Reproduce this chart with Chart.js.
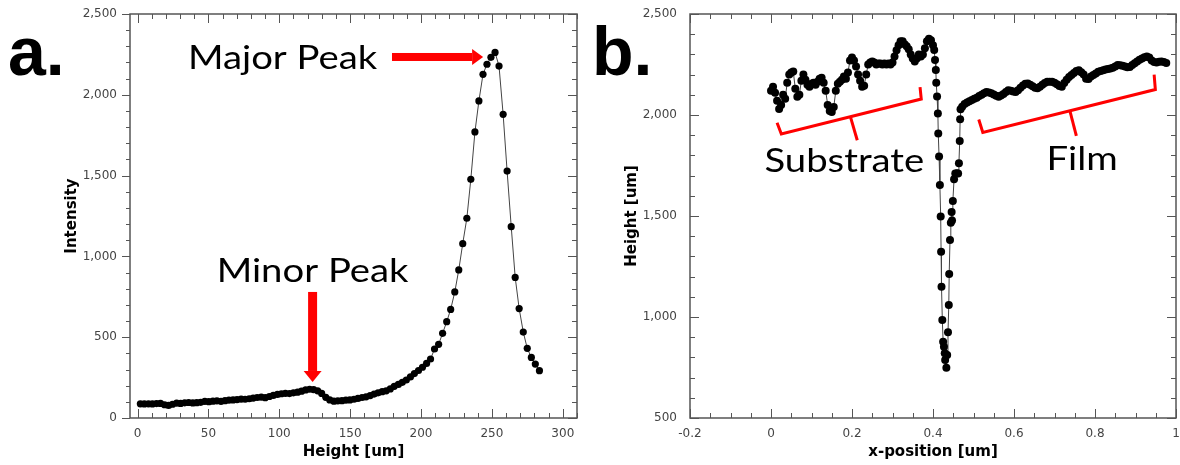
<!DOCTYPE html>
<html>
<head>
<meta charset="utf-8">
<script src="https://cdn.jsdelivr.net/npm/chart.js@4.4.1/dist/chart.umd.min.js"></script>
<style>
  body { margin: 0; background: #fff; }
  #wrap { position: relative; width: 1180px; height: 465px; }
  canvas { position: absolute; top: 0; }
</style>
</head>
<body>
<div id="wrap">
  <canvas id="chartA" width="590" height="465" style="left:0"></canvas>
  <canvas id="chartB" width="590" height="465" style="left:590px"></canvas>
</div>
<script>
// Panel a: intensity vs height
const heightUm = [
  2.0, 4.8, 7.7, 10.5, 13.4, 16.2, 19.1, 21.9, 24.7, 27.6,
  30.4, 33.3, 36.1, 39.0, 41.8, 44.6, 47.5, 50.3, 53.2, 56.0,
  58.9, 61.7, 64.5, 67.4, 70.2, 73.1, 75.9, 78.8, 81.6, 84.4,
  87.3, 90.1, 93.0, 95.8, 98.7, 101.5, 104.3, 107.2, 110.0, 112.9,
  115.7, 118.6, 121.4, 124.2, 127.1, 129.9, 132.8, 135.6, 138.5, 141.3,
  144.2, 147.0, 149.8, 152.7, 155.5, 158.4, 161.2, 164.1, 166.9, 169.7,
  172.6, 175.4, 178.3, 181.1, 184.0, 186.8, 189.6, 192.5, 195.3, 198.2,
  201.0, 203.9, 206.7, 209.5, 212.4, 215.2, 218.1, 220.9, 223.8, 226.6,
  229.4, 232.3, 235.1, 238.0, 240.8, 243.7, 246.5, 249.3, 252.2, 255.0,
  257.9, 260.7, 263.6, 266.4, 269.2, 272.1, 274.9, 277.8, 280.6, 283.5
];
const intensity = [
  88, 87, 88, 87, 89, 90, 82, 78, 85, 92,
  90, 94, 96, 93, 95, 97, 103, 101, 104, 106,
  103, 107, 110, 112, 114, 117, 116, 119, 123, 127,
  129, 126, 133, 140, 146, 150, 153, 151, 156, 160,
  166, 174, 178, 176, 168, 152, 128, 112, 104, 106,
  107, 110, 112, 116, 121, 127, 131, 139, 148, 156,
  163, 168, 180, 196, 208, 221, 235, 254, 275, 294,
  314, 338, 365, 427, 456, 524, 596, 672, 780, 916,
  1079, 1236, 1477, 1770, 1962, 2127, 2189, 2232, 2262, 2178,
  1879, 1528, 1184, 870, 677, 532, 431, 375, 334, 293
];
const xTicksA = [0, 50, 100, 150, 200, 250, 300];
const yTicksA = [0, 500, 1000, 1500, 2000, 2500];

// Panel b: height profile vs x-position
const xPosUm = [
  0.000, 0.005, 0.010, 0.015, 0.020, 0.025, 0.030, 0.035, 0.040, 0.045,
  0.050, 0.055, 0.060, 0.065, 0.070, 0.075, 0.080, 0.085, 0.090, 0.095,
  0.100, 0.105, 0.110, 0.115, 0.120, 0.125, 0.130, 0.135, 0.140, 0.145,
  0.150, 0.155, 0.160, 0.165, 0.170, 0.175, 0.180, 0.185, 0.190, 0.195,
  0.200, 0.205, 0.210, 0.215, 0.220, 0.225, 0.230, 0.235, 0.240, 0.245,
  0.250, 0.255, 0.260, 0.265, 0.270, 0.275, 0.280, 0.285, 0.290, 0.295,
  0.300, 0.305, 0.310, 0.315, 0.320, 0.325, 0.330, 0.335, 0.340, 0.345,
  0.350, 0.355, 0.360, 0.365, 0.370, 0.375, 0.380, 0.385, 0.390, 0.395,
  0.400,
  0.403, 0.405, 0.407, 0.408, 0.410, 0.412, 0.413, 0.415, 0.417, 0.419,
  0.420, 0.421, 0.423, 0.425, 0.427, 0.429, 0.430, 0.433, 0.435, 0.437,
  0.439, 0.440, 0.442, 0.444, 0.446, 0.447, 0.449, 0.452, 0.455, 0.459,
  0.462, 0.464, 0.466, 0.467, 0.468,
  0.472, 0.478, 0.484, 0.490, 0.496, 0.502, 0.508, 0.514, 0.520, 0.526,
  0.532, 0.538, 0.544, 0.550, 0.556, 0.562, 0.568, 0.574, 0.580, 0.586,
  0.592, 0.598, 0.604, 0.610, 0.616, 0.622, 0.628, 0.634, 0.640, 0.646,
  0.652, 0.658, 0.664, 0.670, 0.676, 0.682, 0.688, 0.694, 0.700, 0.706,
  0.712, 0.718, 0.724, 0.730, 0.736, 0.742, 0.748, 0.754, 0.760, 0.766,
  0.772, 0.778, 0.784, 0.790, 0.796, 0.802, 0.808, 0.814, 0.820, 0.826,
  0.832, 0.838, 0.844, 0.850, 0.856, 0.862, 0.868, 0.874, 0.880, 0.886,
  0.892, 0.898, 0.904, 0.910, 0.916, 0.922, 0.928, 0.934, 0.940, 0.946,
  0.952, 0.958, 0.964, 0.970, 0.976
];
const profileHeight = [
  2120, 2140, 2110, 2070, 2030, 2050, 2100, 2080, 2160, 2200,
  2210, 2215, 2130, 2090, 2100, 2170, 2200, 2175, 2150, 2140,
  2155, 2160, 2150, 2165, 2180, 2185, 2160, 2120, 2050, 2020,
  2015, 2040, 2120, 2155, 2165, 2175, 2190, 2180, 2210, 2270,
  2285, 2270, 2240, 2200, 2170, 2140, 2145, 2200, 2250, 2260,
  2265, 2260, 2250, 2255, 2255, 2250, 2255, 2250, 2255, 2250,
  2260, 2290, 2320, 2345, 2365, 2365, 2350, 2340, 2325, 2300,
  2280, 2265, 2280, 2300, 2290, 2300, 2330, 2365, 2378, 2370,
  2345,
  2322, 2272, 2223, 2160, 2091, 2008, 1909, 1794, 1653, 1497,
  1323, 1150, 985, 877, 853, 820, 787, 749, 812, 924,
  1059, 1213, 1381, 1466, 1520, 1478, 1574, 1682, 1711, 1712,
  1711, 1761, 1871, 1979, 2028,
  2041, 2055, 2062, 2068, 2074, 2080, 2086, 2094, 2100, 2108,
  2114, 2112, 2108, 2102, 2095, 2090, 2096, 2104, 2114, 2122,
  2120, 2116, 2114, 2122, 2135, 2146, 2155, 2156, 2150, 2142,
  2135, 2132, 2140, 2150, 2158, 2164, 2165, 2164, 2160, 2152,
  2144, 2140, 2158, 2175, 2188, 2198, 2208, 2218, 2222, 2212,
  2200, 2180, 2178, 2190, 2198, 2206, 2214, 2218, 2222, 2225,
  2228, 2230, 2234, 2240, 2248, 2246, 2244, 2240, 2236, 2238,
  2248, 2256, 2265, 2273, 2280, 2286, 2290, 2285, 2270, 2262,
  2260, 2264, 2265, 2262, 2258
];
const xTicksB = [-0.2, 0, 0.2, 0.4, 0.6, 0.8, 1];
const yTicksB = [500, 1000, 1500, 2000, 2500];

const TICK_FONT = { family: 'DejaVu Sans', size: 12 };
const TITLE_FONT = { family: 'DejaVu Sans', size: 15, weight: 'bold' };
const NOTE_FONT = '33px Lato';
const NOTE_STRETCH = 1.16;
const RED = '#ff0000';

function fixedBox(size) {
    return scale => {
        if (scale.isHorizontal()) scale.height = size; else scale.width = size;
        scale.paddingLeft = scale.paddingRight = scale.paddingTop = scale.paddingBottom = 0;
    };
}

function line(ctx, x1, y1, x2, y2) {
    ctx.beginPath();
    ctx.moveTo(x1, y1);
    ctx.lineTo(x2, y2);
    ctx.stroke();
}

// frame + minor/major ticks on all four sides
function drawFrame(chart, f) {
    const { ctx, chartArea: { left, right, top, bottom }, scales: { x, y } } = chart;
    ctx.save();
    ctx.strokeStyle = '#555';
    ctx.lineWidth = 1.5;
    ctx.strokeRect(left, top, right - left, bottom - top);
    ctx.lineWidth = 1;
    const isMajor = (v, step) => Math.abs(v / step - Math.round(v / step)) < 1e-6;
    for (let k = Math.ceil(x.min / f.xMinor - 1e-6); k * f.xMinor <= x.max + 1e-9; k++) {
        const v = k * f.xMinor;
        const px = Math.round(x.getPixelForValue(v)) + 0.5;
        const len = isMajor(v, f.xMajor) ? 9 : 5;
        line(ctx, px, bottom, px, bottom - len);
        line(ctx, px, top, px, top + len);
    }
    for (let k = Math.ceil(y.min / f.yMinor - 1e-6); k * f.yMinor <= y.max + 1e-9; k++) {
        const v = k * f.yMinor;
        const py = Math.round(y.getPixelForValue(v)) + 0.5;
        const len = isMajor(v, f.yMajor) ? 9 : 5;
        if (f.leftOut) line(ctx, left - len + 1, py, left, py);
        else line(ctx, left, py, left + len, py);
        line(ctx, right, py, right - len, py);
    }
    ctx.restore();
}

function panelLabel(ctx, text, px, py) {
    ctx.save();
    ctx.fillStyle = '#000';
    ctx.font = 'bold 68px "Liberation Sans"';
    ctx.textBaseline = 'alphabetic';
    ctx.fillText(text, px, py);
    ctx.restore();
}

function note(chart, text, xv, yv, align) {
    const { ctx, scales: { x, y } } = chart;
    ctx.save();
    ctx.translate(x.getPixelForValue(xv), y.getPixelForValue(yv));
    ctx.scale(NOTE_STRETCH, 1);
    ctx.fillStyle = '#000';
    ctx.font = NOTE_FONT;
    ctx.textAlign = align;
    ctx.textBaseline = 'alphabetic';
    ctx.fillText(text, 0, 0);
    ctx.restore();
}

function polyline(chart, pts) {
    const { ctx, scales: { x, y } } = chart;
    ctx.save();
    ctx.strokeStyle = RED;
    ctx.lineWidth = 3;
    ctx.beginPath();
    pts.forEach(([xv, yv], i) => {
        const px = x.getPixelForValue(xv), py = y.getPixelForValue(yv);
        if (i === 0) ctx.moveTo(px, py); else ctx.lineTo(px, py);
    });
    ctx.stroke();
    ctx.restore();
}

// block arrow from (x0,y0) to tip (x1,y1) in data space
function arrow(chart, x0, y0, x1, y1, shaft, head, headLen) {
    const { ctx, scales: { x, y } } = chart;
    const ax = x.getPixelForValue(x0), ay = y.getPixelForValue(y0);
    const bx = x.getPixelForValue(x1), by = y.getPixelForValue(y1);
    const ang = Math.atan2(by - ay, bx - ax);
    const len = Math.hypot(bx - ax, by - ay);
    ctx.save();
    ctx.translate(ax, ay);
    ctx.rotate(ang);
    ctx.fillStyle = RED;
    ctx.fillRect(0, -shaft / 2, len - headLen, shaft);
    ctx.beginPath();
    ctx.moveTo(len - headLen, -head);
    ctx.lineTo(len, 0);
    ctx.lineTo(len - headLen, head);
    ctx.closePath();
    ctx.fill();
    ctx.restore();
}

function baseOptions(xr, yr, yWidth, padRight, xTitle, yTitle, yTitlePad) {
    return {
        responsive: false,
        animation: false,
        events: [],
        layout: { padding: { top: 14, right: padRight, left: 0, bottom: 0 } },
        plugins: { legend: { display: false }, tooltip: { enabled: false } },
        scales: {
            x: {
                type: 'linear', min: xr.min, max: xr.max,
                grid: { display: false, drawTicks: false },
                border: { display: false },
                afterBuildTicks: s => { s.ticks = xr.ticks.map(v => ({ value: v })); },
                afterFit: fixedBox(47),
                ticks: { font: TICK_FONT, color: '#444', padding: 9, maxRotation: 0, autoSkip: false, callback: v => String(v) },
                title: { display: true, text: xTitle, font: TITLE_FONT, color: '#000', padding: { top: 0, bottom: 4 } }
            },
            y: {
                type: 'linear', min: yr.min, max: yr.max,
                grid: { display: false, drawTicks: false },
                border: { display: false },
                afterBuildTicks: s => { s.ticks = yr.ticks.map(v => ({ value: v })); },
                afterFit: fixedBox(yWidth),
                ticks: { font: TICK_FONT, color: '#444', padding: 13, autoSkip: false, callback: v => v.toLocaleString('en-US') },
                title: { display: true, text: yTitle, font: TITLE_FONT, color: '#000', padding: { top: yTitlePad, bottom: 0 } }
            }
        }
    };
}

const lineStyle = {
    showLine: true,
    borderColor: '#444',
    borderWidth: 1,
    pointBackgroundColor: '#000',
    pointBorderWidth: 0,
    tension: 0
};

new Chart(document.getElementById('chartA'), {
    type: 'scatter',
    data: { datasets: [{ ...lineStyle, pointRadius: 3.6, data: heightUm.map((h, i) => ({ x: h, y: intensity[i] })) }] },
    options: baseOptions({ min: -5.3, max: 310, ticks: xTicksA }, { min: 0, max: 2500, ticks: yTicksA },
        130, 13, 'Height [um]', 'Intensity', 63),
    plugins: [{
        id: 'decorA',
        beforeDatasetsDraw(chart) {
            drawFrame(chart, { xMinor: 10, xMajor: 50, yMinor: 100, yMajor: 500, leftOut: true });
        },
        afterDraw(chart) {
            panelLabel(chart.ctx, 'a.', 8, 75);
            note(chart, 'Major Peak', 35.6, 2160, 'left');
            arrow(chart, 179.5, 2234, 243.8, 2234, 8, 8, 11);
            note(chart, 'Minor Peak', 123.5, 840, 'center');
            arrow(chart, 123.5, 780, 123.5, 223, 9, 9, 11);
        }
    }]
});

new Chart(document.getElementById('chartB'), {
    type: 'scatter',
    data: { datasets: [{ ...lineStyle, pointRadius: 4, data: xPosUm.map((p, i) => ({ x: p, y: profileHeight[i] })) }] },
    options: baseOptions({ min: -0.2, max: 1, ticks: xTicksB }, { min: 500, max: 2500, ticks: yTicksB },
        100, 4, 'x-position [um]', 'Height [um]', 33.5),
    plugins: [{
        id: 'decorB',
        beforeDatasetsDraw(chart) {
            drawFrame(chart, { xMinor: 0.05, xMajor: 0.2, yMinor: 100, yMajor: 500, leftOut: false });
        },
        afterDraw(chart) {
            panelLabel(chart.ctx, 'b.', 2, 75);
            polyline(chart, [[0.015, 1962], [0.0255, 1906], [0.371, 2079], [0.368, 2138]]);
            polyline(chart, [[0.196, 1992], [0.213, 1875]]);
            polyline(chart, [[0.513, 1978], [0.523, 1914], [0.949, 2126], [0.946, 2200]]);
            polyline(chart, [[0.738, 2021], [0.754, 1897]]);
            note(chart, 'Substrate', 0.181, 1718, 'center');
            note(chart, 'Film', 0.768, 1728, 'center');
        }
    }]
});
</script>
</body>
</html>
